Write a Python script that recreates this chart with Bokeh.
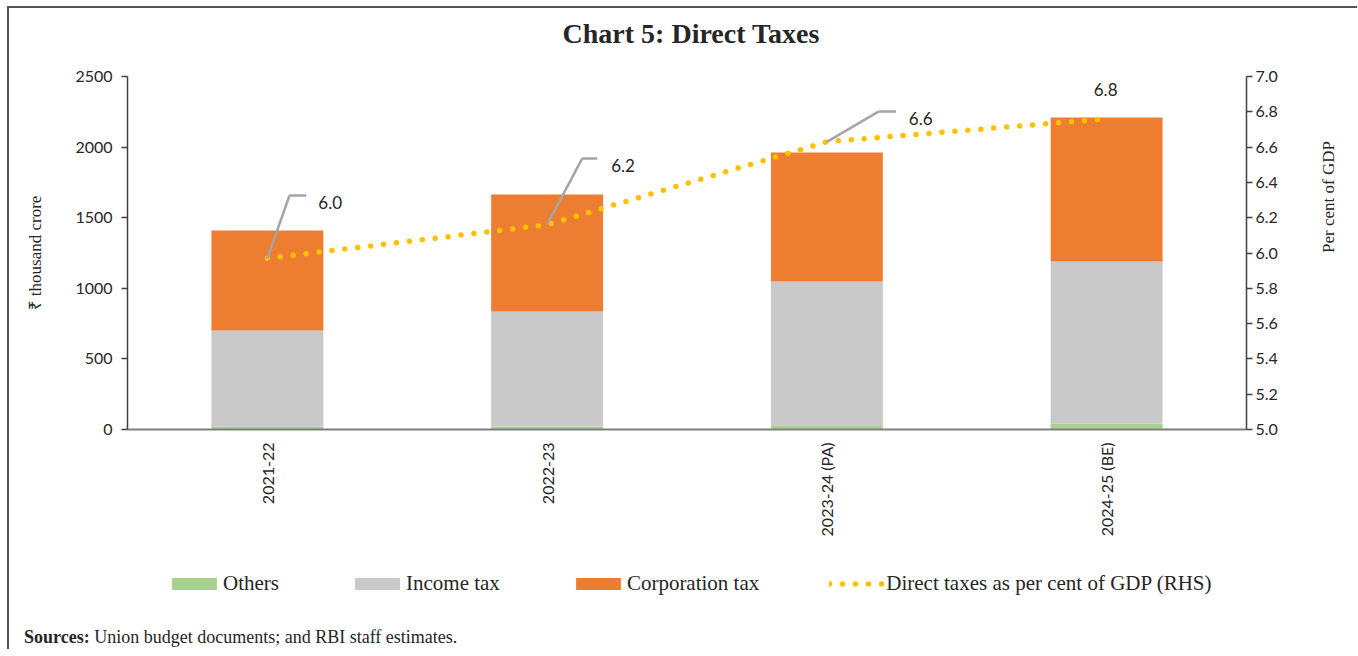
from bokeh.plotting import figure
from bokeh.layouts import column
from bokeh.models import (Range1d, FactorRange, LinearAxis, Legend, LegendItem, Div,
                          ColumnDataSource, SingleIntervalTicker, NumeralTickFormatter)
from bokeh.core.properties import value
from bokeh.embed import file_html
from bokeh.resources import INLINE
import math

# ---- data ----
years = ["2021-22", "2022-23", "2023-24 (PA)", "2024-25 (BE)"]
others = [20, 22, 30, 40]
income_tax = [681, 814, 1018, 1150]
corporation_tax = [708, 828, 914, 1020]
gdp_share = [5.97, 6.16, 6.63, 6.76]
gdp_labels = ["6.0", "6.2", "6.6", "6.8"]
series_names = ["Others", "Income tax", "Corporation tax", "Direct taxes as per cent of GDP (RHS)"]

# ---- styling ----
SERIF = "Liberation Serif"
SANS = "Lato"
TXT = "#262626"
C_OTH, C_INC, C_CORP, C_LINE = "#A9D18E", "#C9C9C9", "#ED7D31", "#FFC000"
DOTS = dict(line_color=C_LINE, line_width=5.5, line_dash="0 13", line_cap="round")

lead_dx1 = [0.079, 0.125, 0.186]
lead_dy1 = [0.356, 0.375, 0.172]
lead_dx2 = [0.139, 0.179, 0.247]
lab_dx = [0.182, 0.229, 0.293, -0.046]
lab_dy = [0.316, 0.336, 0.132, 0.166]

title_div = Div(text=("<div style=\"box-sizing:border-box;width:1348px;padding-left:16px;padding-top:12px;"
                      "text-align:center;font-family:'Liberation Serif';font-weight:bold;font-size:28px;"
                      "line-height:28px;color:#262626\">Chart 5: Direct Taxes</div>"),
                width=1348, height=48, margin=0)

p = figure(x_range=FactorRange(*years, range_padding=0, factor_padding=0),
           y_range=Range1d(0, 2500), frame_width=1119, frame_height=353,
           output_backend="svg", toolbar_location=None,
           min_border_left=118, min_border_right=111,
           min_border_top=20, min_border_bottom=120)
p.outline_line_color = None
p.xgrid.visible = False
p.ygrid.visible = False
p.extra_y_ranges = {"gdp": Range1d(5.0, 7.0)}

src = ColumnDataSource(dict(years=years, others=others, income_tax=income_tax,
                            corporation_tax=corporation_tax, gdp=gdp_share))
p.vbar_stack(["others", "income_tax", "corporation_tax"], x="years", width=0.4,
             color=[C_OTH, C_INC, C_CORP], line_color=None, source=src)
p.line(x="years", y="gdp", source=src, y_range_name="gdp", **DOTS)

n = 3
lead = ColumnDataSource(dict(
    x0=years[:n], y0=gdp_share[:n],
    x1=[[years[i], lead_dx1[i]] for i in range(n)],
    y1=[gdp_share[i] + lead_dy1[i] for i in range(n)],
    x2=[[years[i], lead_dx2[i]] for i in range(n)],
))
p.segment(x0="x0", y0="y0", x1="x1", y1="y1", source=lead, y_range_name="gdp",
          line_color="#A5A5A5", line_width=2.5)
p.segment(x0="x1", y0="y1", x1="x2", y1="y1", source=lead, y_range_name="gdp",
          line_color="#A5A5A5", line_width=2.5)
lab = ColumnDataSource(dict(
    x=[[years[i], lab_dx[i]] for i in range(len(years))],
    y=[gdp_share[i] + lab_dy[i] for i in range(len(years))],
    t=gdp_labels))
p.text(x="x", y="y", text="t", source=lab, y_range_name="gdp", text_font=value(SANS),
       text_font_size="17px", text_color=TXT, text_align="left", text_baseline="middle")

ya = p.yaxis[0]
ya.ticker = SingleIntervalTicker(interval=500, num_minor_ticks=0)
ya.axis_label = "₹ thousand crore"

ra = LinearAxis(y_range_name="gdp", ticker=SingleIntervalTicker(interval=0.2, num_minor_ticks=0),
                formatter=NumeralTickFormatter(format="0.0"), axis_label="Per cent of GDP")
p.add_layout(ra, "right")
ra.axis_label_orientation = math.pi / 2

for ax, st in [(ya, 27), (ra, 48)]:
    ax.axis_line_color = "#404040"
    ax.axis_line_width = 1.5
    ax.major_tick_line_color = "#404040"
    ax.major_tick_line_width = 1.5
    ax.major_tick_out = 6
    ax.major_tick_in = 0
    ax.minor_tick_line_color = None
    ax.major_label_text_font = SANS
    ax.major_label_text_font_size = "16px"
    ax.major_label_text_color = TXT
    ax.axis_label_text_font = SERIF
    ax.axis_label_text_font_size = "17px"
    ax.axis_label_text_font_style = "normal"
    ax.axis_label_text_color = TXT
    ax.axis_label_standoff = st
ya.major_label_standoff = 9
ra.major_label_standoff = 3

xa = p.xaxis[0]
xa.axis_line_color = "#7F7F7F"
xa.axis_line_width = 2
xa.major_tick_line_color = None
xa.minor_tick_line_color = None
xa.major_label_orientation = math.pi / 2
xa.major_label_text_font = SANS
xa.major_label_text_font_size = "16px"
xa.major_label_text_color = TXT
xa.major_label_standoff = 7

# ---- legend strip (own small figure aligned under the chart; its series sit out of view) ----
lg = figure(width=1348, height=70, x_range=FactorRange(*years), y_range=Range1d(-2, -1),
            x_axis_type=None, y_axis_type=None, output_backend="svg",
            toolbar_location=None, min_border=0)
lg.outline_line_color = None
lg.xgrid.visible = False
lg.ygrid.visible = False
sw = lg.vbar_stack(["others", "income_tax", "corporation_tax"], x="years", width=0,
                   color=[C_OTH, C_INC, C_CORP], line_color=None, source=src)
sl = lg.line(x="years", y="gdp", source=src, **DOTS)
legend = Legend(items=[LegendItem(label=series_names[i], renderers=[r])
                       for i, r in enumerate(list(sw) + [sl])],
                orientation="horizontal", location=(39, 23), padding=0, margin=0,
                spacing=70, label_standoff=1, glyph_width=56, glyph_height=15,
                border_line_color=None, background_fill_alpha=0,
                label_text_font=SERIF, label_text_font_size="21px", label_text_color=TXT)
lg.add_layout(legend, "center")

note = Div(text=("<div style=\"padding-top:9px;font-family:'Liberation Serif';font-size:18px;"
                 "line-height:18px;color:#262626\"><b>Sources:</b> Union budget documents; "
                 "and RBI staff estimates.</div>"),
           width=1300, height=30, margin=(0, 0, 0, 15))

lay = column(title_div, p, lg, note, spacing=0)
lay.styles = {"margin-left": "7px", "margin-top": "6px",
              "border-top": "2px solid #555555", "border-left": "2px solid #555555"}

open("out.html", "w").write(file_html(lay, INLINE))
